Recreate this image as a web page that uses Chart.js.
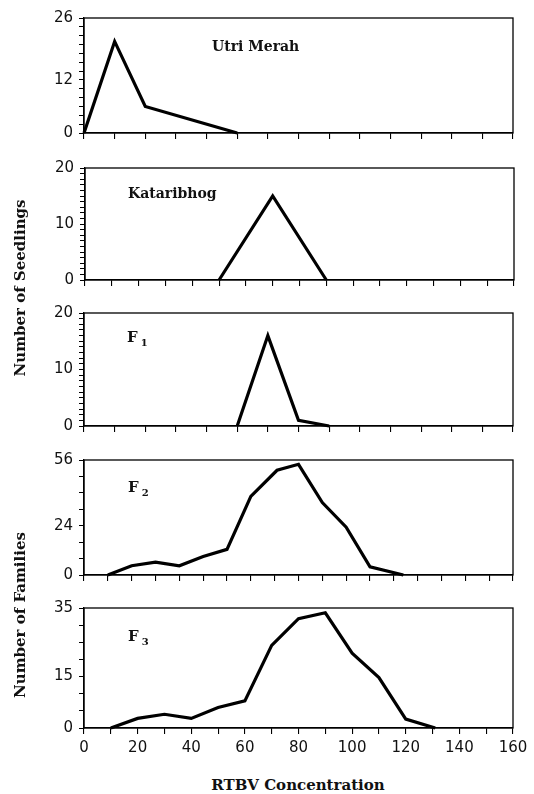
<!DOCTYPE html>
<html lang="en">
<head>
<meta charset="UTF-8">
<title>RTBV Concentration</title>
<script src="https://cdn.jsdelivr.net/npm/chart.js@4.4.0/dist/chart.umd.min.js"></script>
<style>
    body { margin: 0; background: #fff; width: 534px; height: 794px; position: relative; overflow: hidden; }
    canvas { position: absolute; left: 0; }
    .lbl { position: absolute; font-family: "DejaVu Serif", serif; font-weight: bold; font-size: 14px; line-height: 1; color: #111; white-space: nowrap; }
    .lbl sub { font-size: 10px; vertical-align: -4px; margin-left: 3px; }
    .big { font-size: 15px; }
    .vt { transform: translate(-50%, -50%) rotate(-90deg); }
    .ct { transform: translate(-50%, -50%); }
</style>
</head>
<body>
<canvas id="p0"></canvas>
<canvas id="p1"></canvas>
<canvas id="p2"></canvas>
<canvas id="p3"></canvas>
<canvas id="p4"></canvas>

<div class="lbl" style="left:212px; top:39px;">Utri Merah</div>
<div class="lbl" style="left:128px; top:186px;">Kataribhog</div>
<div class="lbl big" style="left:127px; top:330px;">F<sub>1</sub></div>
<div class="lbl big" style="left:128px; top:480px;">F<sub>2</sub></div>
<div class="lbl big" style="left:128px; top:629px;">F<sub>3</sub></div>
<div class="lbl big vt" style="left:20px; top:288px;">Number of Seedlings</div>
<div class="lbl big vt" style="left:20px; top:615px;">Number of Families</div>
<div class="lbl big ct" style="left:298px; top:785px;">RTBV Concentration</div>

<script>
    // values
    const utriX = [0, 10, 20, 50];
    const utriY = [0, 20.7, 6, 0];
    const katX = [50, 70, 90];
    const katY = [0, 15, 0];
    const f1X = [50, 60, 70, 80];
    const f1Y = [0, 16, 1, 0];
    const f2X = [10, 20, 30, 40, 50, 60, 70, 81, 90, 100, 110, 120, 134];
    const f2Y = [0, 4.5, 6.3, 4.5, 9, 12.5, 38.3, 51, 53.9, 35.3, 23.3, 4, 0];
    const f3X = [10, 20, 30, 40, 50, 60, 70, 80, 90, 100, 110, 120, 131];
    const f3Y = [0, 2.8, 4, 2.8, 6, 7.9, 24.1, 31.9, 33.6, 21.8, 14.7, 2.6, 0];

    const xMaxes = [140, 160, 140, 180, 160];
    const yMaxes = [26, 20, 20, 56, 35];
    const yMinorSteps = [2, 1, 1, 8, 5];
    const yTickLabels = [[0, 12, 26], [0, 10, 20], [0, 10, 20], [0, 24, 56], [0, 15, 35]];
    const xTickLabels = [0, 20, 40, 60, 80, 100, 120, 140, 160];

    const seriesX = [utriX, katX, f1X, f2X, f3X];
    const seriesY = [utriY, katY, f1Y, f2Y, f3Y];

    // panel boxes on the page
    const boxes = [
        {top: 15, bottom: 140, left: 84, right: 513},
        {top: 165, bottom: 287, left: 85, right: 514},
        {top: 310, bottom: 433, left: 84, right: 513},
        {top: 457, bottom: 582, left: 84, right: 513},
        {top: 605, bottom: 728, left: 84, right: 513}
    ];

    const numFont = {family: '"DejaVu Sans", sans-serif', size: 15};
    const padTop = 12;

    const frame = {
        id: 'frame',
        afterDatasetsDraw(chart) {
            const a = chart.chartArea, ctx = chart.ctx;
            ctx.save();
            ctx.strokeStyle = '#000';
            ctx.lineWidth = 1.3;
            ctx.strokeRect(a.left, a.top, a.right - a.left, a.bottom - a.top);
            ctx.restore();
        }
    };

    function steps(max, step) {
        const out = [];
        for (let v = 0; v <= max + 1e-9; v += step) out.push({value: v});
        return out;
    }

    boxes.forEach(function(b, i) {
        const last = i === boxes.length - 1;
        const xh = last ? 30 : 8;
        const cv = document.getElementById('p' + i);
        cv.width = 534;
        cv.height = (b.bottom - b.top) + padTop + xh;
        cv.style.top = (b.top - padTop) + 'px';

        const pts = seriesX[i].map((x, k) => ({x: x, y: seriesY[i][k]}));

        new Chart(cv, {
            type: 'line',
            data: {
                datasets: [{
                    data: pts,
                    borderColor: '#000',
                    borderWidth: 3.2,
                    pointRadius: 0,
                    tension: 0,
                    clip: 6,
                    borderJoinStyle: 'miter'
                }]
            },
            options: {
                responsive: false,
                animation: false,
                layout: {padding: {top: padTop, left: 0, right: 534 - b.right, bottom: 0}},
                plugins: {legend: {display: false}, tooltip: {enabled: false}},
                scales: {
                    x: {
                        type: 'linear',
                        min: 0,
                        max: xMaxes[i],
                        afterBuildTicks: s => { s.ticks = steps(xMaxes[i], 10); },
                        afterFit: s => { s.height = xh; },
                        ticks: {
                            autoSkip: false,
                            maxRotation: 0,
                            padding: 5,
                            color: '#111',
                            font: numFont,
                            callback: v => (last && xTickLabels.includes(v)) ? String(v) : ''
                        },
                        grid: {drawOnChartArea: false, drawTicks: true, tickLength: 6, color: '#000', lineWidth: 1.1},
                        border: {display: true, color: '#000', width: 1.3}
                    },
                    y: {
                        min: 0,
                        max: yMaxes[i],
                        afterBuildTicks: s => { s.ticks = steps(yMaxes[i], yMinorSteps[i]); },
                        afterFit: s => { s.width = b.left; },
                        ticks: {
                            autoSkip: false,
                            padding: 6,
                            color: '#111',
                            font: numFont,
                            callback: v => yTickLabels[i].includes(v) ? String(v) : ''
                        },
                        grid: {drawOnChartArea: false, drawTicks: true, tickLength: 5, color: '#000', lineWidth: 1},
                        border: {display: true, color: '#000', width: 1.3}
                    }
                }
            },
            plugins: [frame]
        });
    });
</script>
</body>
</html>
